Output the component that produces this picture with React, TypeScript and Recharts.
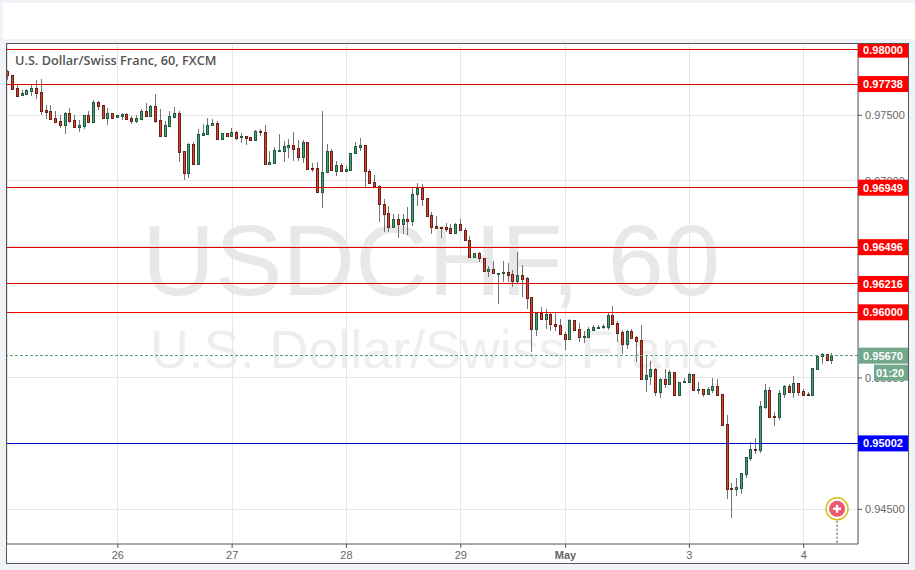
import { Bar, CartesianGrid, ComposedChart, ReferenceDot, ReferenceLine, XAxis, YAxis } from "recharts"

// hourly USD/CHF candles (first bar to last bar)
const opens = [
  0.97835, 0.97804, 0.97705, 0.97652, 0.97665, 0.97688, 0.97705, 0.97675, 0.9754, 0.9753,
  0.97477, 0.97454, 0.97429, 0.97515, 0.97462, 0.97413, 0.97421, 0.975, 0.97452, 0.97599,
  0.97576, 0.97482, 0.97515, 0.97485, 0.97497, 0.97507, 0.97477, 0.97459, 0.97474, 0.9753,
  0.97497, 0.97568, 0.97462, 0.97345, 0.97421, 0.9749, 0.97515, 0.97226, 0.97063, 0.97279,
  0.97127, 0.97353, 0.9736, 0.97424, 0.97439, 0.97322, 0.97363, 0.97345, 0.9737, 0.97332,
  0.9734, 0.97332, 0.97315, 0.97378, 0.9737, 0.97132, 0.97137, 0.97233, 0.97231, 0.97261,
  0.97271, 0.97251, 0.97185, 0.97294, 0.97099, 0.97096, 0.96913, 0.97066, 0.97226, 0.97078,
  0.97119, 0.97078, 0.97086, 0.9721, 0.97261, 0.97271, 0.97073, 0.9699, 0.96964, 0.96822,
  0.96754, 0.96652, 0.96708, 0.96675, 0.96708, 0.96698, 0.96898, 0.96944, 0.96868, 0.96738,
  0.96657, 0.9665, 0.9665, 0.96639, 0.96606, 0.9667, 0.96624, 0.96548, 0.96424, 0.96454,
  0.96411, 0.96317, 0.96327, 0.96297, 0.96297, 0.96304, 0.96289, 0.96236, 0.96282, 0.96259,
  0.96114, 0.95875, 0.95992, 0.95947, 0.95985, 0.95909, 0.95901, 0.95832, 0.95799, 0.95939,
  0.9587, 0.95814, 0.95814, 0.95868, 0.95886, 0.95886, 0.95891, 0.9598, 0.95916, 0.9585,
  0.95761, 0.95858, 0.95809, 0.95787, 0.95495, 0.95518, 0.95566, 0.95396, 0.9549, 0.95457,
  0.95546, 0.9537, 0.95467, 0.95472, 0.95528, 0.95411, 0.95414, 0.95381, 0.95411, 0.95436,
  0.95375, 0.95147, 0.9466, 0.94652, 0.94665, 0.94772, 0.94893, 0.94959, 0.94952, 0.95279,
  0.95408, 0.95211, 0.95206, 0.95381, 0.95439, 0.95396, 0.95459, 0.95398, 0.95375, 0.9537,
  0.95571, 0.95665, 0.9568, 0.9564,
]
const highs = [
  0.97845, 0.97804, 0.97738, 0.97693, 0.97698, 0.97731, 0.97769, 0.97774, 0.97578, 0.97578,
  0.97533, 0.97502, 0.97528, 0.97553, 0.97502, 0.97464, 0.97502, 0.97533, 0.97617, 0.97611,
  0.97576, 0.97553, 0.9752, 0.97502, 0.97515, 0.97515, 0.97495, 0.97502, 0.97545, 0.97591,
  0.97578, 0.97662, 0.97548, 0.97459, 0.97533, 0.97561, 0.97533, 0.97226, 0.97287, 0.97299,
  0.97393, 0.97434, 0.97477, 0.97472, 0.97457, 0.97368, 0.97368, 0.97403, 0.97378, 0.97363,
  0.9734, 0.97337, 0.97388, 0.97398, 0.97426, 0.97228, 0.97256, 0.97358, 0.97307, 0.9732,
  0.97373, 0.97312, 0.97312, 0.97294, 0.97134, 0.97142, 0.97533, 0.97281, 0.97243, 0.97152,
  0.97134, 0.97114, 0.9721, 0.97297, 0.97327, 0.97274, 0.97089, 0.97045, 0.96969, 0.96863,
  0.9681, 0.96748, 0.96748, 0.96748, 0.96802, 0.96952, 0.96982, 0.96977, 0.96868, 0.96764,
  0.96733, 0.9665, 0.9668, 0.96672, 0.96677, 0.9671, 0.96639, 0.96581, 0.96454, 0.96457,
  0.96411, 0.96353, 0.96391, 0.96299, 0.96388, 0.96375, 0.96322, 0.96457, 0.9636, 0.96271,
  0.96114, 0.95992, 0.96038, 0.96023, 0.95992, 0.95997, 0.95947, 0.95853, 0.95947, 0.95941,
  0.95916, 0.9586, 0.95886, 0.95903, 0.95906, 0.95908, 0.95997, 0.96048, 0.95936, 0.95865,
  0.95865, 0.95873, 0.9582, 0.95903, 0.95675, 0.95629, 0.95573, 0.95497, 0.95568, 0.95561,
  0.95546, 0.95472, 0.95497, 0.95535, 0.9553, 0.95467, 0.95416, 0.95429, 0.95497, 0.95492,
  0.95375, 0.95216, 0.94703, 0.94736, 0.94774, 0.94901, 0.9501, 0.95041, 0.95322, 0.95452,
  0.95434, 0.95244, 0.95408, 0.95447, 0.95454, 0.95515, 0.95464, 0.95414, 0.95396, 0.95573,
  0.95667, 0.9569, 0.95683, 0.95688,
]
const lows = [
  0.97769, 0.97703, 0.9765, 0.9765, 0.97662, 0.9765, 0.97622, 0.97502, 0.97472, 0.97464,
  0.97444, 0.97401, 0.9736, 0.97439, 0.97406, 0.97375, 0.97393, 0.97444, 0.97439, 0.9754,
  0.97482, 0.97426, 0.97477, 0.97482, 0.97464, 0.97472, 0.97434, 0.97444, 0.97474, 0.97495,
  0.97495, 0.97444, 0.97342, 0.97337, 0.97413, 0.97485, 0.97147, 0.97007, 0.97023, 0.97124,
  0.97124, 0.9735, 0.97358, 0.97419, 0.9732, 0.9732, 0.97342, 0.97342, 0.97312, 0.97287,
  0.97274, 0.97304, 0.97312, 0.97345, 0.97129, 0.97127, 0.97134, 0.97231, 0.97147, 0.97177,
  0.97155, 0.97155, 0.97139, 0.97084, 0.97063, 0.96911, 0.96797, 0.97063, 0.97078, 0.97038,
  0.97076, 0.97076, 0.97084, 0.9721, 0.97231, 0.96952, 0.96985, 0.96952, 0.9669, 0.96614,
  0.96614, 0.9665, 0.96568, 0.96596, 0.96591, 0.96652, 0.9681, 0.9681, 0.96728, 0.96596,
  0.96642, 0.96566, 0.96611, 0.96606, 0.96604, 0.96622, 0.96545, 0.96416, 0.96419, 0.96378,
  0.96315, 0.96271, 0.96292, 0.96063, 0.96226, 0.96231, 0.96195, 0.96216, 0.96119, 0.96025,
  0.95693, 0.9582, 0.95942, 0.95873, 0.95853, 0.9586, 0.95827, 0.95713, 0.95797, 0.9586,
  0.95769, 0.95769, 0.95812, 0.95865, 0.95883, 0.9587, 0.95865, 0.95911, 0.95776, 0.95683,
  0.95723, 0.95802, 0.95624, 0.9549, 0.95396, 0.95447, 0.95358, 0.95343, 0.95421, 0.95454,
  0.9537, 0.95363, 0.95464, 0.95467, 0.95403, 0.95378, 0.95358, 0.95373, 0.95383, 0.95365,
  0.95142, 0.94579, 0.94434, 0.94596, 0.94612, 0.94744, 0.94863, 0.94916, 0.94926, 0.95264,
  0.95203, 0.95137, 0.9518, 0.95348, 0.95393, 0.95348, 0.95363, 0.9537, 0.95363, 0.95368,
  0.95568, 0.95606, 0.95637, 0.95606,
]
const closes = [
  0.97804, 0.97703, 0.9765, 0.97667, 0.97693, 0.97705, 0.97672, 0.97535, 0.97528, 0.97474,
  0.97452, 0.97429, 0.97515, 0.97459, 0.97413, 0.97424, 0.975, 0.97452, 0.97601, 0.97573,
  0.97482, 0.97515, 0.97482, 0.975, 0.97507, 0.97474, 0.97459, 0.97477, 0.97533, 0.97497,
  0.97571, 0.97459, 0.97345, 0.97424, 0.97492, 0.97515, 0.97223, 0.97063, 0.97281, 0.97127,
  0.97355, 0.97365, 0.97424, 0.97439, 0.97322, 0.97363, 0.97345, 0.97373, 0.9733, 0.9734,
  0.9733, 0.97315, 0.97378, 0.9737, 0.97132, 0.97142, 0.97233, 0.97236, 0.97266, 0.97271,
  0.97246, 0.97185, 0.97294, 0.97094, 0.97094, 0.96913, 0.97066, 0.97226, 0.97081, 0.97119,
  0.97078, 0.97089, 0.9721, 0.97264, 0.97271, 0.97073, 0.96987, 0.96964, 0.96822, 0.96751,
  0.96652, 0.96708, 0.96675, 0.96708, 0.96698, 0.96898, 0.96944, 0.96865, 0.96736, 0.96652,
  0.96644, 0.96644, 0.96637, 0.96606, 0.9667, 0.96624, 0.96548, 0.96424, 0.96454, 0.96411,
  0.96317, 0.96327, 0.96297, 0.96299, 0.96304, 0.96287, 0.96236, 0.96282, 0.96256, 0.96111,
  0.95875, 0.95992, 0.95947, 0.95985, 0.95909, 0.95898, 0.95832, 0.95799, 0.95939, 0.95868,
  0.95814, 0.9582, 0.9587, 0.95886, 0.95891, 0.95896, 0.9598, 0.95914, 0.95845, 0.95761,
  0.95858, 0.95804, 0.95784, 0.95492, 0.9552, 0.95566, 0.95396, 0.95492, 0.95457, 0.95546,
  0.95373, 0.95467, 0.95477, 0.9553, 0.95411, 0.95416, 0.95381, 0.95416, 0.95436, 0.9537,
  0.95145, 0.94655, 0.94652, 0.9467, 0.94774, 0.94898, 0.94957, 0.94952, 0.95284, 0.95408,
  0.95206, 0.95206, 0.95383, 0.95436, 0.95396, 0.95459, 0.95396, 0.95373, 0.9537, 0.95573,
  0.95667, 0.9568, 0.9564, 0.95667,
]

const dayTicks = [23, 47, 71, 95, 117, 143, 167]
const dayLabels = ["26", "27", "28", "29", "May", "3", "4"]
const gridPrices = [0.945, 0.95, 0.955, 0.96, 0.965, 0.97, 0.975, 0.98]
// the other round prices sit fully under a level tag
const plainPrices = [0.945, 0.955, 0.97, 0.975]

// horizontal levels the trader drew, with their axis tags
const levels = [
  { price: 0.98, line: "#e00000", tag: "#ff0000" },
  { price: 0.97738, line: "#e00000", tag: "#ff0000" },
  { price: 0.96949, line: "#e00000", tag: "#ff0000" },
  { price: 0.96496, line: "#e00000", tag: "#ff0000" },
  { price: 0.96216, line: "#e00000", tag: "#ff0000" },
  { price: 0.96, line: "#ff0000", tag: "#ff0000" },
  { price: 0.95002, line: "#0000d0", tag: "#0000ff" },
]
const lastPrice = 0.9567
const countdown = "01:20"
const eventBar = 174
const eventPrice = 0.94504

const rows = opens.map((open, i) => ({
  i,
  open,
  high: highs[i],
  low: lows[i],
  close: closes[i],
}))

// tags are ticks too, listed last so they paint over the plain prices
const axisPrices = [...plainPrices, ...levels.map((l) => l.price), lastPrice]

const W = 915
const H = 570
const FONT = "'Liberation Sans', Arial, sans-serif"
const PLOT_TOP = 44
const TAG_WIDTH = 50

function Candle(props: any) {
  const { x, y, width, height, payload } = props
  const px = Math.floor(x + width / 2)
  const perPrice = height / (payload.high - payload.low)
  const yOf = (v: number) => y + (payload.high - v) * perPrice
  const up = payload.close >= payload.open
  const top = Math.round(yOf(Math.max(payload.open, payload.close)))
  const bottom = Math.round(yOf(Math.min(payload.open, payload.close)))
  return (
    <g>
      <rect x={px} y={Math.round(y)} width={1} height={Math.max(1, Math.round(height))} fill="#747476" />
      <rect
        x={px - 0.5}
        y={top + 0.5}
        width={2}
        height={Math.max(1, bottom - top)}
        fill={up ? "#45a276" : "#dc4433"}
        stroke={up ? "#23593e" : "#6b2016"}
        strokeWidth={1}
      />
    </g>
  )
}

function PriceTick(props: any) {
  const { x, y, payload } = props
  const value = payload.value
  const left = x - 7
  const level = levels.find((l) => l.price === value)
  if (plainPrices.includes(value) && !level) {
    return (
      <text x={x} y={y + 4} fontFamily={FONT} fontSize={11} fill="#666">
        {value.toFixed(5)}
      </text>
    )
  }
  if (value === lastPrice) {
    return (
      <g fontFamily={FONT} fontSize={11} fontWeight={700} fill="#fff" textAnchor="middle">
        <rect x={left} y={y - 8} width={TAG_WIDTH} height={16} fill="#72a98b" />
        <text x={left + 25} y={y + 4}>{value.toFixed(5)}</text>
        <rect x={left + 16} y={y + 9} width={34} height={16} fill="#72a98b" />
        <text x={left + 32} y={y + 21}>{countdown}</text>
      </g>
    )
  }
  const top = Math.max(y - 8, PLOT_TOP)
  return (
    <g>
      <rect x={left} y={top} width={TAG_WIDTH} height={y + 8 - top} fill={level?.tag} />
      <text x={left + 25} y={y + 4} textAnchor="middle" fontFamily={FONT} fontSize={11} fontWeight={700} fill="#fff">
        {value.toFixed(5)}
      </text>
    </g>
  )
}

function EventPin(props: any) {
  const { cx, cy } = props
  return (
    <g>
      <line x1={cx} x2={cx} y1={cy + 12} y2={cy + 35} stroke="#9a9a9a" strokeWidth={2} strokeDasharray="2 2" />
      <circle cx={cx} cy={cy} r={11} fill="#fff" stroke="#d8bc1c" strokeWidth={1.5} />
      <circle cx={cx} cy={cy} r={8} fill="#f0566e" />
      <rect x={cx - 4} y={cy - 1.2} width={8} height={2.4} fill="#fff" />
      <rect x={cx - 1.2} y={cy - 4} width={2.4} height={8} fill="#fff" />
    </g>
  )
}

function DayTick(props: any) {
  const { x, y, payload } = props
  const label = dayLabels[dayTicks.indexOf(payload.value)]
  return (
    <text
      x={x}
      y={y + 9}
      textAnchor="middle"
      fontFamily={FONT}
      fontSize={11}
      fontWeight={label === "May" ? 700 : 400}
      fill="#666"
    >
      {label}
    </text>
  )
}

export default function App() {
  return (
    <div style={{ position: "absolute", left: 0, top: 0, width: W, height: H, background: "#f0f3f7", overflow: "hidden" }}>
      <div style={{ position: "absolute", left: 3, top: 3, width: 912, height: 36, background: "#fff" }} />
      <div
        style={{
          position: "absolute",
          left: 6,
          top: 43,
          width: 901,
          height: 519,
          background: "#fff",
          border: "1px solid #555",
        }}
      />
      <div
        style={{
          position: "absolute",
          left: 142,
          top: 202,
          fontFamily: FONT,
          fontSize: 101,
          lineHeight: "116px",
          color: "#e8e8e8",
          whiteSpace: "nowrap",
        }}
      >
        USDCHF, 60
      </div>
      <div
        style={{
          position: "absolute",
          left: 150,
          top: 319,
          fontFamily: FONT,
          fontSize: 53.8,
          lineHeight: "61px",
          color: "#eeeeee",
          whiteSpace: "nowrap",
        }}
      >
        U.S. Dollar/Swiss Franc
      </div>
      <div style={{ position: "absolute", left: 0, top: 0 }}>
        <ComposedChart width={W} height={H} data={rows} margin={{ top: PLOT_TOP, right: 7, bottom: 7, left: 7 }}>
          <CartesianGrid stroke="#e6e6e6" strokeWidth={1} shapeRendering="crispEdges" horizontalValues={gridPrices} />
          <XAxis
            dataKey="i"
            type="number"
            domain={[-0.27, 178.4]}
            allowDataOverflow
            ticks={dayTicks}
            interval={0}
            height={19}
            tick={<DayTick />}
            tickSize={4}
            stroke="#555"
          />
          <YAxis
            orientation="right"
            domain={[0.94236, 0.98043]}
            allowDataOverflow
            ticks={axisPrices}
            interval={0}
            width={TAG_WIDTH}
            tick={<PriceTick />}
            tickSize={4}
            tickMargin={3}
            stroke="#555"
          />
          {levels.map((l) => (
            <ReferenceLine key={l.price} y={l.price} stroke={l.line} strokeWidth={1} shapeRendering="crispEdges" />
          ))}
          <ReferenceLine y={lastPrice} stroke="#5f9c7c" strokeDasharray="3 2" shapeRendering="crispEdges" />
          <Bar dataKey={(d: any) => [d.low, d.high]} barSize={4} shape={<Candle />} isAnimationActive={false} />
          <ReferenceDot x={eventBar} y={eventPrice} r={11} shape={<EventPin />} />
        </ComposedChart>
      </div>
      <div
        style={{
          position: "absolute",
          left: 15,
          top: 51,
          fontFamily: "'Open Sans', sans-serif",
          fontSize: 12.7,
          fontWeight: 600,
          lineHeight: "18px",
          color: "#555",
          whiteSpace: "nowrap",
        }}
      >
        U.S. Dollar/Swiss Franc, 60, FXCM
      </div>
    </div>
  )
}
